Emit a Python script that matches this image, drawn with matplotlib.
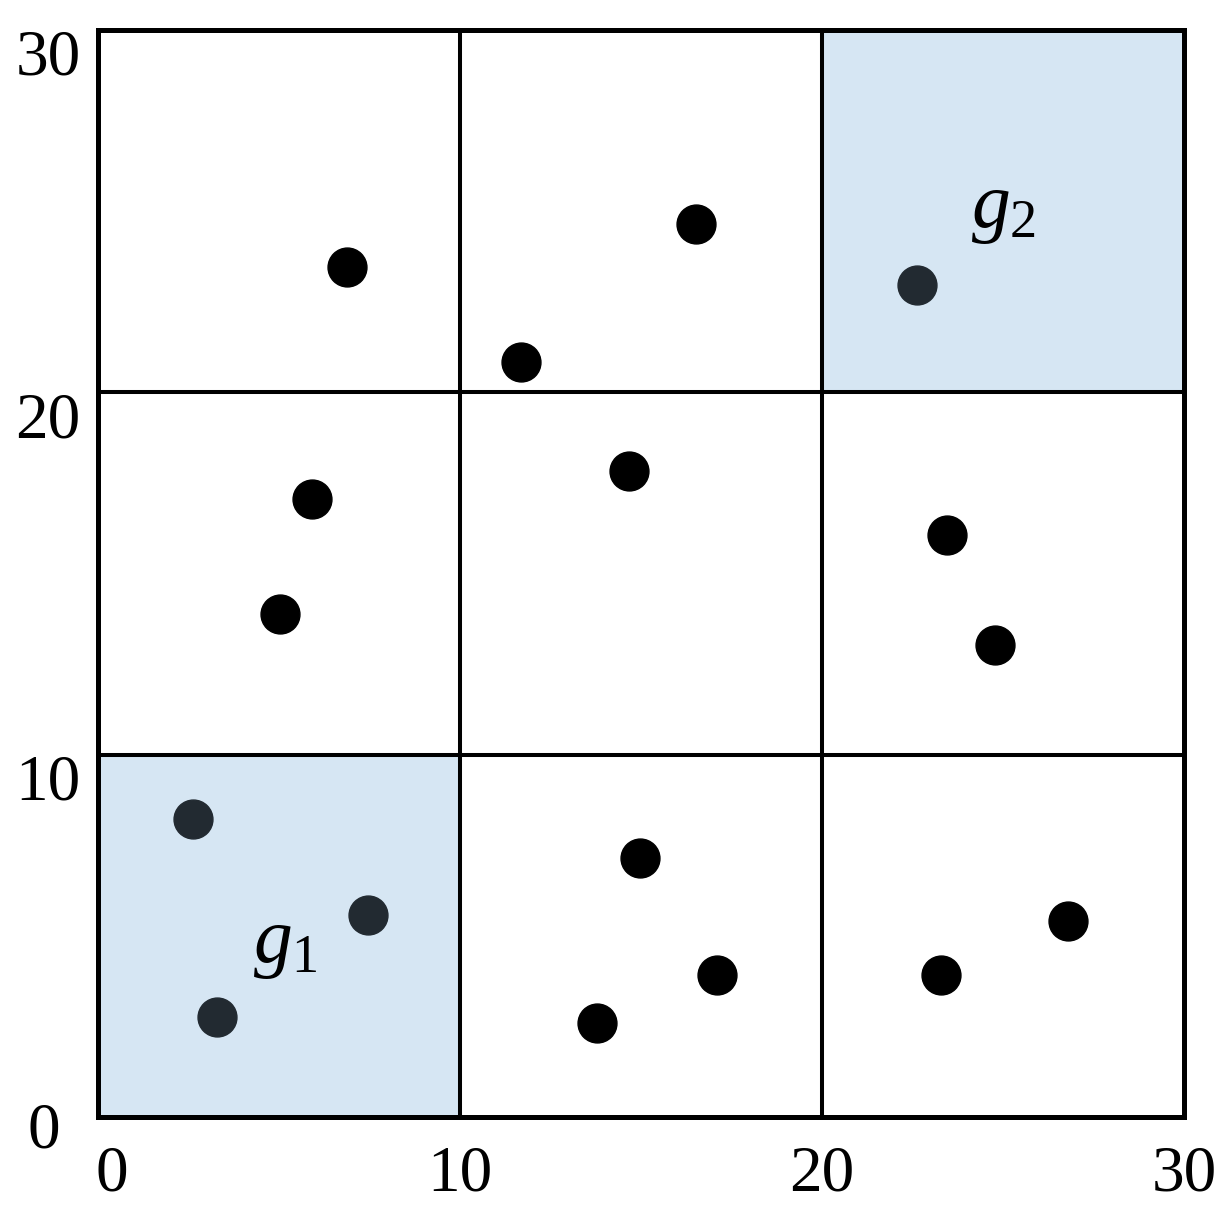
import matplotlib
matplotlib.use("Agg")
import matplotlib.pyplot as plt
from matplotlib.patches import Rectangle
import matplotlib.transforms as mtransforms

plt.rcParams['font.family'] = ['Liberation Serif', 'DejaVu Serif']
plt.rcParams['mathtext.fontset'] = 'custom'
plt.rcParams['mathtext.rm'] = 'Liberation Serif'
plt.rcParams['mathtext.it'] = 'Liberation Serif:italic'

# points (black)
px = [6.88, 16.52, 11.69, 5.91, 14.67, 5.03, 23.45, 24.78, 14.97, 17.10, 13.78, 23.29, 26.80]
py = [23.46, 24.65, 20.84, 17.06, 17.83, 13.88, 16.06, 13.03, 7.15, 3.92, 2.59, 3.92, 5.41]
# points inside highlighted cells (dark grey)
gx = [2.62, 7.46, 3.29, 22.62]
gy = [8.22, 5.58, 2.76, 22.96]

# highlighted cells (lower-left corner)
cells = [(0, 0), (20, 20)]
cell_size = 10
grid_lines = [10, 20]
ticks = [0, 10, 20, 30]
labels = ['$g_1$', '$g_2$']
label_x = [5.17, 25.0]
label_y = [4.75, 25.03]

fig = plt.figure(figsize=(12.3, 12.26), dpi=100)
ax = fig.add_axes([98 / 1230, 1 - 1117 / 1226, 1086 / 1230, 1087 / 1226])

for cx, cy in cells:
    ax.add_patch(Rectangle((cx, cy), cell_size, cell_size, facecolor='#d6e6f3',
                           edgecolor='#3a4046', linewidth=2, zorder=1))

for v in grid_lines:
    ax.axvline(v, color='black', linewidth=2.9, zorder=2)
    ax.axhline(v, color='black', linewidth=2.9, zorder=2)

ax.plot(px, py, 'o', color='black', markersize=28, zorder=3)
ax.plot(gx, gy, 'o', color='#222a31', markersize=28, zorder=3)

for t, x, y in zip(labels, label_x, label_y):
    ax.text(x, y, t, fontsize=56, ha='center', va='center', zorder=4)

ax.set_xlim(0, 30)
ax.set_ylim(0, 30)
ax.set_xticks(ticks)
ax.set_yticks(ticks)
ax.set_xticklabels([str(t) for t in ticks])
ax.set_yticklabels([str(t) for t in ticks])
ax.tick_params(length=0, labelsize=47)
ax.tick_params(axis='x', pad=20)
ax.tick_params(axis='y', pad=36)
for lab in ax.get_yticklabels():
    lab.set_horizontalalignment('center')
for lab in ax.get_yticklabels()[1:]:
    lab.set_transform(lab.get_transform() + mtransforms.ScaledTranslation(0, -22 / 100, fig.dpi_scale_trans))
lab0 = ax.get_yticklabels()[0]
lab0.set_transform(lab0.get_transform() + mtransforms.ScaledTranslation(-4 / 100, -8 / 100, fig.dpi_scale_trans))
xl0 = ax.get_xticklabels()[0]
xl0.set_transform(xl0.get_transform() + mtransforms.ScaledTranslation(14 / 100, 0, fig.dpi_scale_trans))

for s in ax.spines.values():
    s.set_linewidth(3.6)
    s.set_zorder(5)

fig.savefig('out.png', dpi=100)
